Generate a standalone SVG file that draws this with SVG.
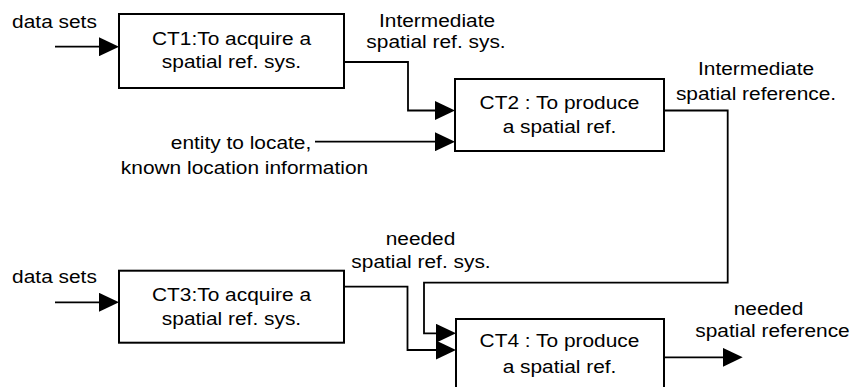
<svg xmlns="http://www.w3.org/2000/svg" width="853" height="387" viewBox="0 0 853 387">
<style>
  .box { fill: #ffffff; stroke: #000000; stroke-width: 2; }
  .wire { fill: none; stroke: #000000; stroke-width: 1.8; }
  .t { font-family: "Liberation Sans", Arial, sans-serif; font-size: 18.5px; fill: #000000; text-anchor: middle; }
</style>
<defs>
  <marker id="arrow" markerUnits="userSpaceOnUse" markerWidth="20" markerHeight="19" refX="10" refY="9.5" orient="auto" viewBox="0 0 20 19">
    <path d="M0,0 L20,9.5 L0,19 Z" fill="#000000"/>
  </marker>
</defs>
<rect width="853" height="387" fill="#ffffff"/>

<g id="connectors">
  <path class="wire" d="M55,46.7 H109" marker-end="url(#arrow)"/>
  <path class="wire" d="M344,62 H408 V110.5 H445" marker-end="url(#arrow)"/>
  <path class="wire" d="M315,141.7 H445" marker-end="url(#arrow)"/>
  <path class="wire" d="M664,110.5 H727.7 V282.7 H424 V333.3 H446" marker-end="url(#arrow)"/>
  <path class="wire" d="M55,302.3 H109" marker-end="url(#arrow)"/>
  <path class="wire" d="M344,286.7 H407.5 V350 H446" marker-end="url(#arrow)"/>
  <path class="wire" d="M664,357.3 H732.7" marker-end="url(#arrow)"/>
</g>

<g id="labels">
  <text class="t" transform="translate(54.5,28) scale(1.13,1)">data sets</text>
  <text class="t" transform="translate(54.5,283) scale(1.13,1)">data sets</text>
  <text class="t" transform="translate(437,27) scale(1.13,1)">Intermediate</text>
  <text class="t" transform="translate(436,48.3) scale(1.13,1)">spatial ref. sys.</text>
  <text class="t" transform="translate(756,75) scale(1.13,1)">Intermediate</text>
  <text class="t" transform="translate(756,99.5) scale(1.13,1)">spatial reference.</text>
  <text class="t" transform="translate(241,148.5) scale(1.13,1)">entity to locate,</text>
  <text class="t" transform="translate(244.5,173.5) scale(1.13,1)">known location information</text>
  <text class="t" transform="translate(420.5,245) scale(1.13,1)">needed</text>
  <text class="t" transform="translate(421,268.3) scale(1.13,1)">spatial ref. sys.</text>
  <text class="t" transform="translate(768.5,315) scale(1.13,1)">needed</text>
  <text class="t" transform="translate(772.5,337) scale(1.13,1)">spatial reference</text>
</g>

<g id="CT1">
  <rect class="box" x="119" y="14" width="225" height="74"/>
  <text class="t" transform="translate(231.5,45) scale(1.13,1)">CT1:To acquire a</text>
  <text class="t" transform="translate(231.5,68.3) scale(1.13,1)">spatial ref. sys.</text>
</g>

<g id="CT2">
  <rect class="box" x="455" y="79" width="209" height="72"/>
  <text class="t" transform="translate(559.5,109.3) scale(1.13,1)">CT2 : To produce</text>
  <text class="t" transform="translate(559.5,132.7) scale(1.13,1)">a spatial ref.</text>
</g>

<g id="CT3">
  <rect class="box" x="119" y="270.7" width="225" height="72"/>
  <text class="t" transform="translate(231.5,301) scale(1.13,1)">CT3:To acquire a</text>
  <text class="t" transform="translate(231.5,325) scale(1.13,1)">spatial ref. sys.</text>
</g>

<g id="CT4">
  <rect class="box" x="456" y="319" width="208" height="72"/>
  <text class="t" transform="translate(559.5,346.7) scale(1.13,1)">CT4 : To produce</text>
  <text class="t" transform="translate(559.5,373.3) scale(1.13,1)">a spatial ref.</text>
</g>
</svg>
